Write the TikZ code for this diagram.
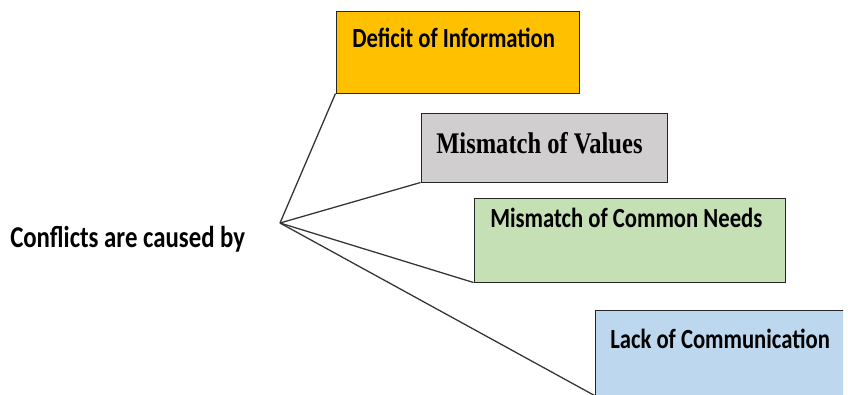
\documentclass[tikz,border=0pt]{standalone}
\usepackage{fontspec}
\usepackage{graphicx}
\setmainfont{Carlito}
\newfontfamily\serifbf{Liberation Serif}
\usetikzlibrary{fit,positioning}
\definecolor{infoorange}{HTML}{FFC000}
\definecolor{valuegray}{HTML}{D0CECE}
\definecolor{needgreen}{HTML}{C5E0B4}
\definecolor{commblue}{HTML}{BDD7EE}
\newcommand{\tallword}[1]{\scalebox{1}[1.22]{#1}}
\tikzset{
    box/.style={draw=black!85,line width=0.75pt,inner sep=0pt},
    lbl/.style={font=\bfseries\fontsize{17}{20}\selectfont,anchor=base west,inner sep=0pt},
    link/.style={draw=black!80,line width=0.95pt}
}

\begin{document}
\begin{tikzpicture}[x=0.75pt,y=-0.75pt]
    \useasboundingbox (0,0) rectangle (848,394);
    \clip (0,0) rectangle (843,394);
    % the four causes
    \node[box,fill=infoorange,fit={(336,11) (579,93)}] (info) {};
    \node[box,fill=valuegray,fit={(421,113) (667,182)}] (values) {};
    \node[box,fill=needgreen,fit={(474,198) (785,282)}] (needs) {};
    \node[box,fill=commblue,fit={(595,310) (860,395)}] (comm) {};
    \node[lbl] (infotext) at (352,47) {\tallword{Deficit of Information}};
    \node[lbl,font=\serifbf\bfseries\fontsize{18.4}{22}\selectfont] (valuestext) at (436,153) {\tallword{Mismatch of Values}};
    \node[lbl] (needstext) at (490,227) {\tallword{Mismatch of Common Needs}};
    \node[lbl] (commtext) at (610,348) {\tallword{Lack of Communication}};
    % root
    \node[lbl,font=\bfseries\fontsize{18.6}{22}\selectfont] (cause) at (10,247) {\tallword{Conflicts are caused by}};
    \coordinate (hub) at (280,223);
    \draw[link] (hub) -- (info.south west);
    \draw[link] (hub) -- (values.south west);
    \draw[link] (hub) -- (needs.south west);
    \draw[link] (hub) -- (comm.south west);
\end{tikzpicture}
\end{document}
